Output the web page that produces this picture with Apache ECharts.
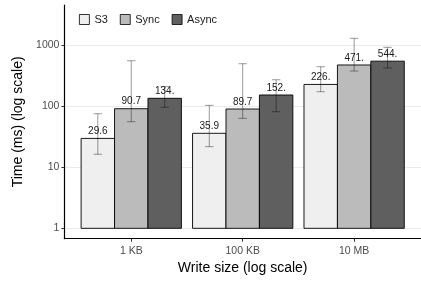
<!DOCTYPE html>
<html>
<head>
<meta charset="utf-8">
<script src="https://cdn.jsdelivr.net/npm/echarts@6/dist/echarts.min.js"></script>
<style>
  html, body { margin: 0; padding: 0; background: #fff; }
  #chart { width: 421px; height: 282px; }
</style>
</head>
<body>
<div id="chart"></div>
<script>
// data
var categories = ['1 KB', '100 KB', '10 MB'];
var seriesNames = ['S3', 'Sync', 'Async'];
var s3Values = [29.6, 35.9, 226.4];
var syncValues = [90.7, 89.7, 471.3];
var asyncValues = [134.2, 152.1, 544.3];
var s3Low = [16.3, 21.7, 172];
var s3High = [75, 103, 441];
var syncLow = [55.6, 63.1, 375];
var syncHigh = [553, 494, 1288];
var asyncLow = [95.6, 81, 420];
var asyncHigh = [208, 270, 917];
var yTicks = [1, 10, 100, 1000];

var colors = ['#efefef', '#bbbbbb', '#5f5f5f'];
var values = [s3Values, syncValues, asyncValues];
var lows = [s3Low, syncLow, asyncLow];
var highs = [s3High, syncHigh, asyncHigh];
var font = 'Liberation Sans';

function barRender(k) {
    return function (params, api) {
        var x = api.value(0) + (k - 1) * 0.3;
        var p0 = api.coord([x - 0.15, api.value(1)]);
        var p1 = api.coord([x + 0.15, 0]);
        return {
            type: 'group',
            children: [{
                type: 'rect',
                shape: {x: p0[0], y: p0[1], width: p1[0] - p0[0], height: p1[1] - p0[1]},
                style: {fill: colors[k], stroke: '#000', lineWidth: 0.9}
            }, {
                type: 'text',
                x: (p0[0] + p1[0]) / 2,
                y: p0[1] - 2,
                style: {
                    text: String(api.value(2)).slice(0, 4),
                    align: 'center',
                    verticalAlign: 'bottom',
                    fontSize: 10,
                    fontFamily: font,
                    fill: '#1a1a1a'
                }
            }]
        };
    };
}

function errRender(k) {
    return function (params, api) {
        var x = api.value(0) + (k - 1) * 0.3;
        var lo = api.coord([x, api.value(1)]);
        var hi = api.coord([x, api.value(2)]);
        var st = {stroke: 'rgba(0,0,0,0.4)', lineWidth: 1};
        return {
            type: 'group',
            children: [
                {type: 'line', shape: {x1: lo[0], y1: lo[1], x2: hi[0], y2: hi[1]}, style: st},
                {type: 'line', shape: {x1: lo[0] - 4.2, y1: lo[1], x2: lo[0] + 4.2, y2: lo[1]}, style: st},
                {type: 'line', shape: {x1: hi[0] - 4.2, y1: hi[1], x2: hi[0] + 4.2, y2: hi[1]}, style: st}
            ]
        };
    };
}

var series = [];
seriesNames.forEach(function (name, k) {
    series.push({
        name: name,
        type: 'custom',
        renderItem: barRender(k),
        itemStyle: {color: colors[k], borderColor: '#000', borderWidth: 0.9},
        data: values[k].map(function (v, i) { return [i, Math.log10(v), v]; }),
        z: 2
    });
});
seriesNames.forEach(function (name, k) {
    series.push({
        type: 'custom',
        renderItem: errRender(k),
        data: lows[k].map(function (v, i) { return [i, Math.log10(v), Math.log10(highs[k][i])]; }),
        z: 3
    });
});

var chart = echarts.init(document.getElementById('chart'));
chart.setOption({
    animation: false,
    textStyle: {fontFamily: font},
    legend: {
        left: 74,
        top: 9,
        itemWidth: 10,
        itemHeight: 10,
        itemGap: 12,
        icon: 'rect',
        textStyle: {fontSize: 11, color: '#1a1a1a', fontFamily: font},
        data: seriesNames.map(function (n, k) {
            return {name: n, itemStyle: {color: colors[k], borderColor: '#000', borderWidth: 0.8}};
        })
    },
    grid: {left: 64.4, right: -9.2, top: 5, bottom: 43.3, containLabel: false},
    xAxis: {
        type: 'value',
        min: -0.6,
        max: 2.6,
        name: 'Write size (log scale)',
        nameLocation: 'middle',
        nameGap: 22,
        nameTextStyle: {fontSize: 14, color: '#000', fontFamily: font},
        axisLine: {onZero: false, lineStyle: {color: '#000', width: 1.2}},
        axisTick: {customValues: [0, 1, 2], length: 3, lineStyle: {color: '#333', width: 1}},
        axisLabel: {
            customValues: [0, 1, 2],
            formatter: function (v) { return categories[Math.round(v)]; },
            fontSize: 10.5,
            color: '#4d4d4d',
            margin: 7
        },
        splitLine: {show: false}
    },
    yAxis: {
        type: 'value',
        min: -0.17,
        max: 3.655,
        name: 'Time (ms) (log scale)',
        nameLocation: 'middle',
        nameGap: 33,
        nameTextStyle: {fontSize: 14, color: '#000', fontFamily: font},
        axisLine: {show: true, onZero: false, lineStyle: {color: '#000', width: 1.2}},
        axisTick: {show: true, customValues: yTicks.map(Math.log10), length: 3, lineStyle: {color: '#333', width: 1}},
        axisLabel: {
            customValues: yTicks.map(Math.log10),
            formatter: function (v) { return String(Math.round(Math.pow(10, v))); },
            fontSize: 10.5,
            color: '#4d4d4d',
            margin: 5
        },
        splitLine: {show: true, lineStyle: {color: '#ebebeb', width: 1}}
    },
    series: series
});
</script>
</body>
</html>
